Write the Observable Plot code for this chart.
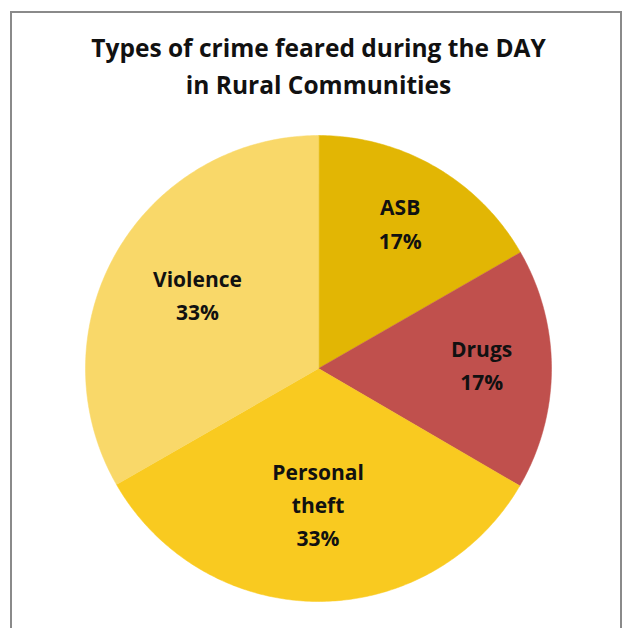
<!DOCTYPE html>
<html>
<head>
<meta charset="utf-8">
<script src="https://cdn.jsdelivr.net/npm/d3@7"></script>
<script src="https://cdn.jsdelivr.net/npm/@observablehq/plot@0.6"></script>
<style>
  html, body { margin: 0; padding: 0; background: #fff; overflow: hidden; }
  #wrap { position: relative; width: 622px; height: 628px; }
  #frame { position: absolute; left: 10px; top: 11px; width: 612px; height: 640px; box-sizing: border-box; border: 2px solid #8a8a8a; }
  #chart { position: absolute; left: 0; top: 0; }
</style>
</head>
<body>
<div id="wrap"><div id="frame"></div><div id="chart"></div></div>
<script>
const titleLines = ["Types of crime feared during the DAY", "in Rural Communities"];
const categories = ["ASB", "Drugs", "Personal theft", "Violence"];
const values = [16.7, 16.7, 33.3, 33.3];
const labels = ["ASB\n17%", "Drugs\n17%", "Personal\ntheft\n33%", "Violence\n33%"];
const colors = ["#E2B604", "#C0504D", "#F9CA20", "#F9D869"];

const arcs = d3.pie().sort(null).startAngle(0).endAngle(2 * Math.PI)(values);
const slicePts = [];
arcs.forEach((a, i) => {
  slicePts.push({cat: categories[i], x: 0, y: 0});
  const n = Math.max(8, Math.ceil((a.endAngle - a.startAngle) * 80));
  for (let k = 0; k <= n; k++) {
    const t = a.startAngle + (a.endAngle - a.startAngle) * k / n;
    slicePts.push({cat: categories[i], x: Math.sin(t), y: Math.cos(t)});
  }
});
const labelData = arcs.map((a, i) => {
  const m = (a.startAngle + a.endAngle) / 2;
  const r = values[i] < 25 ? 0.7 : 0.6;
  return {cat: categories[i], text: labels[i], x: r * Math.sin(m), y: r * Math.cos(m)};
});

const plot = Plot.plot({
  width: 622,
  height: 628,
  marginLeft: 85, marginRight: 71, marginTop: 135, marginBottom: 27,
  x: {domain: [-1, 1], axis: null},
  y: {domain: [-1, 1], axis: null},
  color: {domain: categories, range: colors},
  style: {background: "transparent", fontFamily: "'Open Sans', sans-serif"},
  marks: [
    Plot.line(slicePts, {x: "x", y: "y", z: "cat", fill: "cat", stroke: "cat", strokeWidth: 0.5, curve: "linear-closed"}),
    Plot.text(labelData, {x: "x", y: "y", dy: -6, text: "text", fontSize: 21, fontWeight: "bold", fill: "#111", lineHeight: 1.58}),
    Plot.text([titleLines.join("\n")], {frameAnchor: "top", dy: -105, text: d => d, fontSize: 24.5, fontWeight: "bold", fill: "#111", lineHeight: 1.52, lineAnchor: "top"})
  ]
});
document.getElementById("chart").appendChild(plot);
</script>
</body>
</html>
